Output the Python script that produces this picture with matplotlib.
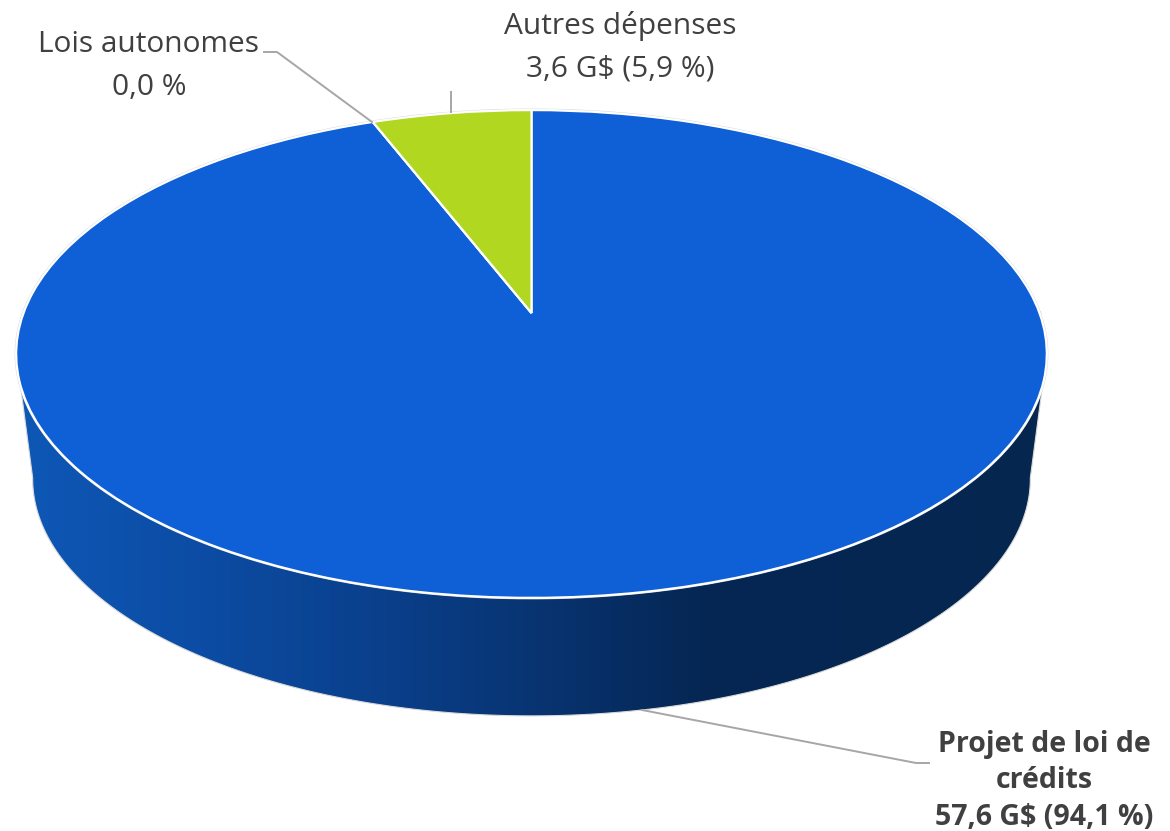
import numpy as np
import matplotlib
matplotlib.use('Agg')
from matplotlib import pyplot as plt
from matplotlib.colors import LinearSegmentedColormap
from matplotlib.patches import PathPatch
from matplotlib.path import Path
from matplotlib.transforms import Transform

plt.rcParams['font.family'] = ['Open Sans', 'DejaVu Sans']

# chart data
categories = ['Projet de loi de crédits', 'Lois autonomes', 'Autres dépenses']
values = [57.6, 0.0, 3.6]
slice_colors = ['#0F5FD6', '#0F5FD6', '#B1D720']
label_texts = ['Projet de loi de\ncrédits\n57,6 G$ (94,1 %)', 'Lois autonomes\n0,0 %', 'Autres dépenses\n3,6 G$ (5,9 %)']
label_bold = [True, False, False]
label_pos = [(1044, 781), (149, 66), (620, 47)]
label_size = [20.5, 21.5, 21.5]
label_spacing = [1.34, 1.6, 1.6]
leaders = [[(642, 710), (916, 763), (929, 763)],
           [(264, 52), (277, 52), (372, 122)],
           [(451, 92), (451, 112)]]
grad_x = [16, 200, 400, 550, 700, 1047]
grad_colors = ['#0E58B6', '#0C4CA4', '#0A3E88', '#08336F', '#052754', '#05264F']


# tilted disc: unit circle to pixels, with some perspective
class Tilt(Transform):
    input_dims = 2
    output_dims = 2

    def __init__(self, cx, cy, sx=1.0, sy=1.0):
        super().__init__()
        self.cx, self.cy, self.sx, self.sy = cx, cy, sx, sy

    def transform_non_affine(self, xy):
        xy = np.asarray(xy, dtype=float)
        w = 1 + 0.168 * xy[:, 1]
        px = self.cx + self.sx * 508 * xy[:, 0] / w
        py = self.cy - self.sy * 237 * xy[:, 1] / w
        return np.column_stack([px, py])


top = Tilt(531.5, 313)
bottom = Tilt(531.5, 439, 0.968, 0.972)

fig = plt.figure(figsize=(11.7, 8.31), dpi=100)
ax = fig.add_axes([0, 0, 1, 1])
wedges, _ = ax.pie(values, colors=slice_colors, startangle=90, counterclock=False,
                   wedgeprops={'edgecolor': 'white', 'linewidth': 1.6, 'zorder': 5})
ax.set_aspect('auto')
ax.set_axis_off()
for w in wedges:
    w.set_transform(top + ax.transData)

# side wall
t = np.linspace(np.pi + 0.165, 2 * np.pi - 0.165, 300)
ring = np.column_stack([np.cos(t), np.sin(t)])
wall = np.vstack([top.transform(ring), bottom.transform(ring)[::-1]])
wall_path = Path(np.vstack([wall, wall[0]]), closed=True)
cmap = LinearSegmentedColormap.from_list('wall', [((x - 16) / (1047 - 16), c) for x, c in zip(grad_x, grad_colors)])
img = ax.imshow(np.linspace(0, 1, 512)[None, :], cmap=cmap, vmin=0, vmax=1, aspect='auto',
                extent=[16, 1047, 831, 0], zorder=2)
edge = PathPatch(wall_path, facecolor='none', edgecolor='#D9D9D9', linewidth=0.8, zorder=3)
ax.add_patch(edge)
img.set_clip_path(edge)
ax.set_xlim(0, 1170)
ax.set_ylim(831, 0)

# thin grey rim round the disc
circ = np.linspace(0, 2 * np.pi, 400)
rim = top.transform(np.column_stack([np.cos(circ), np.sin(circ)]))
ax.plot(rim[:, 0], rim[:, 1], color='#D9D9D9', lw=2.2, zorder=4)

# leader lines
for pts in leaders:
    xs, ys = zip(*pts)
    ax.plot(xs, ys, color='#A6A6A6', lw=1.4, zorder=6)

# labels
for i, txt in enumerate(label_texts):
    ax.text(label_pos[i][0], label_pos[i][1], txt, ha='center', va='center', color='#404040',
            fontsize=label_size[i], fontweight='bold' if label_bold[i] else 'normal',
            linespacing=label_spacing[i], zorder=7)

fig.savefig('out.png', dpi=100)
